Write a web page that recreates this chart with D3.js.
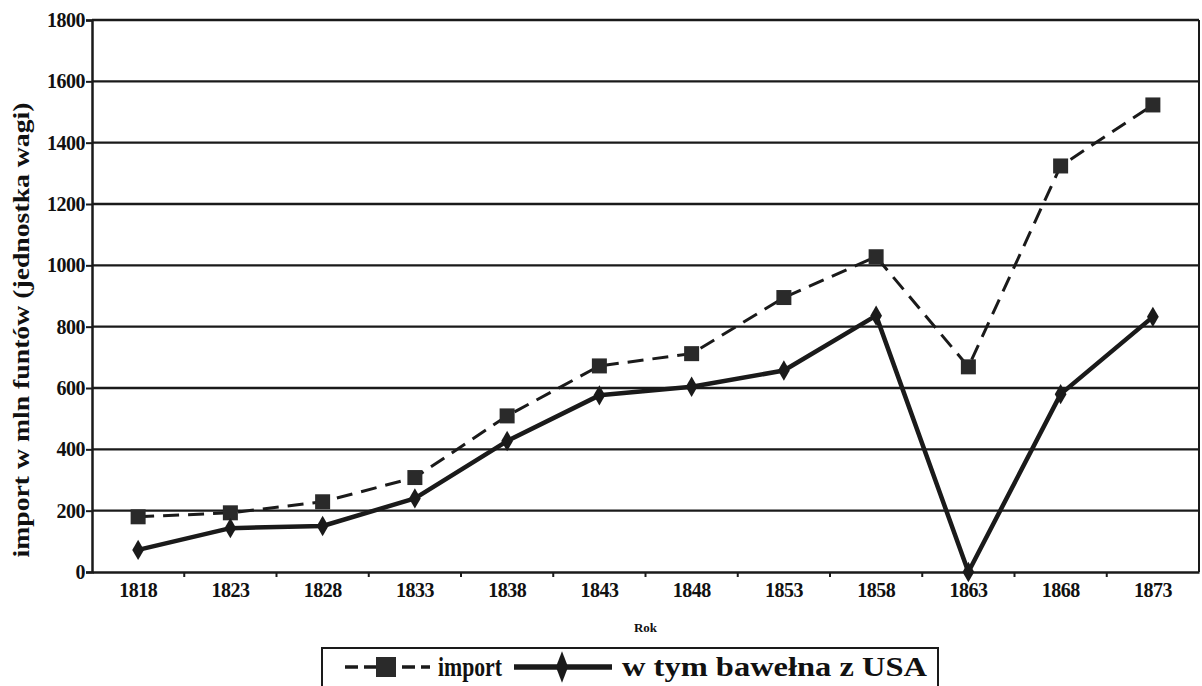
<!DOCTYPE html>
<html><head><meta charset="utf-8">
<script src="https://cdn.jsdelivr.net/npm/d3@7"></script>
<style>body{margin:0;background:#fff}svg{display:block}text{font-family:"Liberation Serif","DejaVu Serif",serif;font-weight:bold;fill:#111}</style>
</head><body><svg id="c" width="1202" height="686"></svg>
<script>
const years = ["1818","1823","1828","1833","1838","1843","1848","1853","1858","1863","1868","1873"];
const importVals = [180, 193, 229, 308, 509, 672, 712, 895, 1028, 669, 1324, 1523];
const cottonVals = [72, 143, 150, 240, 427, 576, 604, 657, 836, 0, 580, 832];
const yTicks = [0,200,400,600,800,1000,1200,1400,1600,1800];
const seriesNames = ["import", "w tym bawełna z USA"];

const svg = d3.select("#c");
const L=92, R=1199, T=20, B=572;
const x = d3.scaleBand().domain(years).range([L,R]);
const y = d3.scaleLinear().domain([0,1800]).range([B,T]);
const ink="#1a1a1a";

svg.append("g").selectAll("line").data(yTicks.filter(d=>d>0)).join("line")
  .attr("x1",L).attr("x2",R).attr("y1",d=>y(d)).attr("y2",d=>y(d))
  .attr("stroke",ink).attr("stroke-width",2.3);
svg.append("line").attr("x1",R).attr("x2",R).attr("y1",T).attr("y2",B).attr("stroke",ink).attr("stroke-width",2);

const ya = svg.append("g").attr("transform",`translate(${L},0)`)
  .call(d3.axisLeft(y).tickValues(yTicks).tickSize(6).tickPadding(1).tickFormat(d3.format("d")));
ya.select(".domain").attr("stroke",ink).attr("stroke-width",2.5);
ya.selectAll(".tick line").attr("stroke",ink).attr("stroke-width",2);
ya.selectAll("text").style("font-size","20px").style("letter-spacing","-0.5px").attr("fill","#111");

const xa = svg.append("g").attr("transform",`translate(0,${B})`)
  .call(d3.axisBottom(x).tickSize(0).tickPadding(11));
xa.select(".domain").attr("stroke",ink).attr("stroke-width",2.5);
xa.selectAll("text").style("font-size","20px").style("letter-spacing","-0.5px").attr("fill","#111");
svg.append("g").selectAll("line").data(years.slice(1)).join("line")
  .attr("x1",d=>x(d)).attr("x2",d=>x(d)).attr("y1",B).attr("y2",B+5)
  .attr("stroke",ink).attr("stroke-width",2);

svg.append("text").attr("transform",`translate(29,330) rotate(-90)`)
  .attr("text-anchor","middle").style("font-size","24px")
  .attr("textLength",455).attr("lengthAdjust","spacingAndGlyphs")
  .text("import w mln funtów (jednostka wagi)");
svg.append("text").attr("x",(L+R)/2).attr("y",632).attr("text-anchor","middle").style("font-size","13px").text("Rok");

const cx = d=>x(d)+x.bandwidth()/2;
const line = d3.line().x(d=>cx(d.k)).y(d=>y(d.v));
const imp = years.map((k,i)=>({k,v:importVals[i]}));
const cot = years.map((k,i)=>({k,v:cottonVals[i]}));

svg.append("path").datum(imp).attr("d",line).attr("fill","none").attr("stroke",ink)
  .attr("stroke-width",3).attr("stroke-dasharray","16,9");
svg.append("path").datum(cot).attr("d",line).attr("fill","none").attr("stroke",ink)
  .attr("stroke-width",4.5).attr("stroke-linejoin","round");

svg.append("g").selectAll("rect").data(imp).join("rect")
  .attr("x",d=>cx(d.k)-7.5).attr("y",d=>y(d.v)-7.5).attr("width",15).attr("height",15).attr("fill","#2a2a2a");
const diamond = d3.symbol().type(d3.symbolDiamond).size(120);
svg.append("g").selectAll("path").data(cot).join("path")
  .attr("transform",d=>`translate(${cx(d.k)},${y(d.v)})`).attr("d",diamond).attr("fill",ink);

const lg = svg.append("g");
lg.append("rect").attr("x",322).attr("y",648).attr("width",616).attr("height",60)
  .attr("fill","none").attr("stroke",ink).attr("stroke-width",2);
const ly = 667;
lg.append("line").attr("x1",345).attr("x2",430).attr("y1",ly).attr("y2",ly).attr("stroke",ink)
  .attr("stroke-width",3.5).attr("stroke-dasharray","13,6");
lg.append("rect").attr("x",376).attr("y",ly-10).attr("width",20).attr("height",20).attr("fill","#2a2a2a");
lg.append("text").attr("x",438).attr("y",ly+9).style("font-size","27px")
  .attr("textLength",64).attr("lengthAdjust","spacingAndGlyphs").text(seriesNames[0]);
lg.append("line").attr("x1",514).attr("x2",612).attr("y1",ly).attr("y2",ly).attr("stroke",ink).attr("stroke-width",5.5);
lg.append("path").attr("transform",`translate(562,${ly}) scale(0.8,1.2)`).attr("d",d3.symbol().type(d3.symbolDiamond).size(200)).attr("fill",ink);
lg.append("text").attr("x",622).attr("y",ly+9).style("font-size","27px")
  .attr("textLength",305).attr("lengthAdjust","spacingAndGlyphs").text(seriesNames[1]);
</script></body></html>
